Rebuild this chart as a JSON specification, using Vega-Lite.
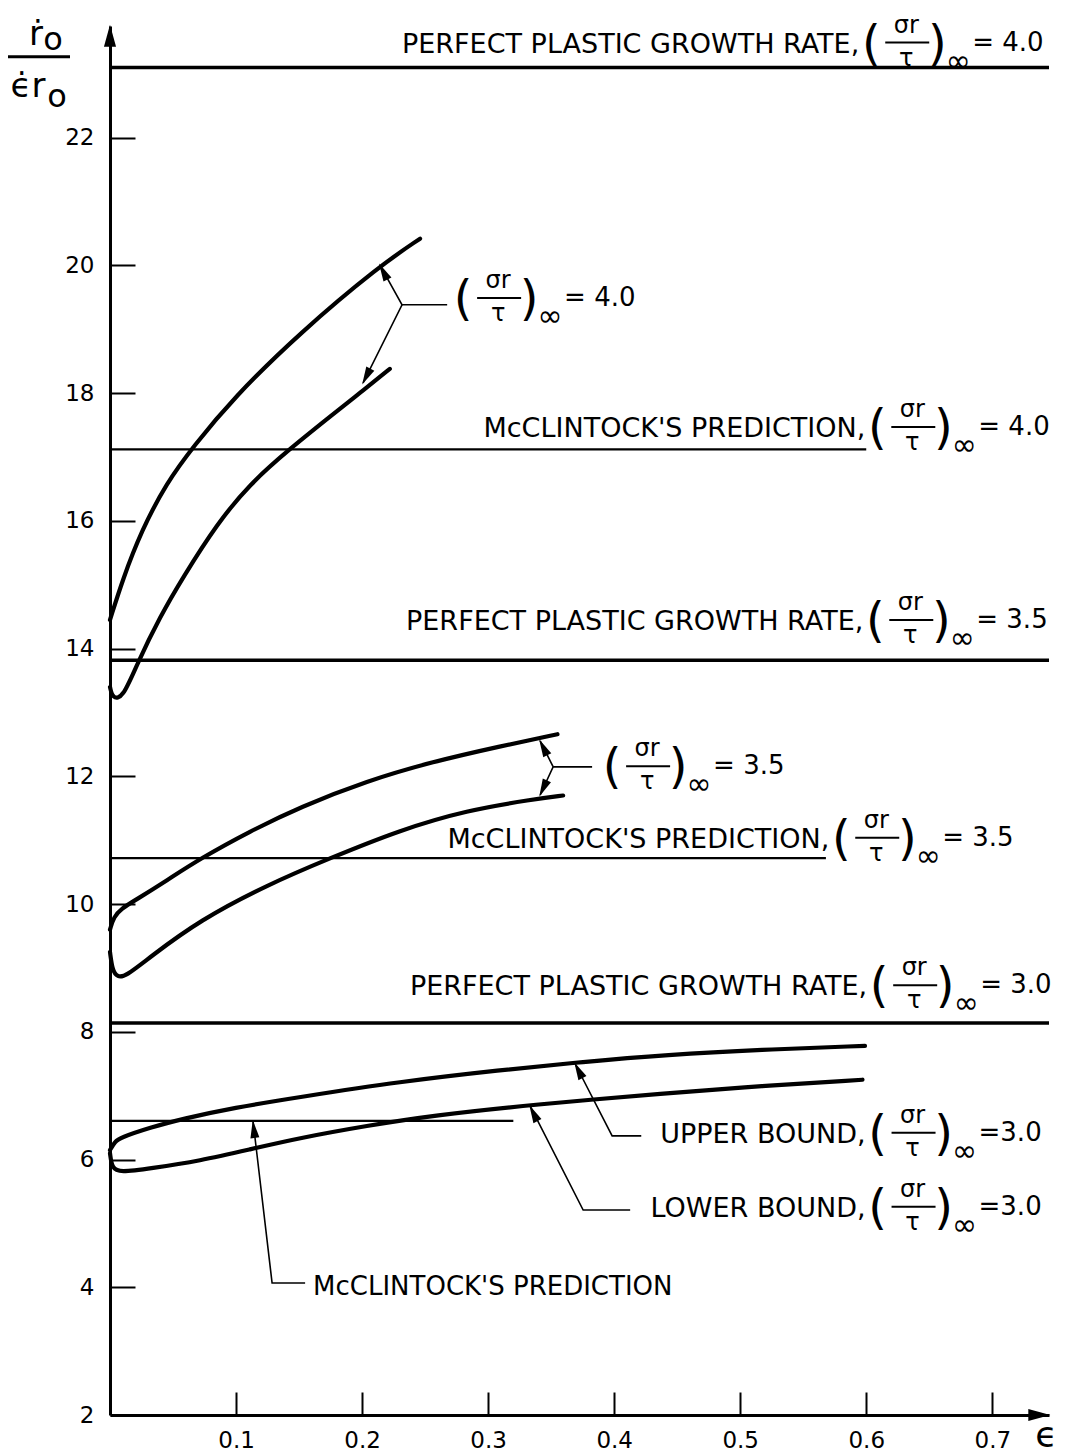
{
  "$schema": "https://vega.github.io/schema/vega-lite/v6.json",
  "width": 939,
  "height": 1389,
  "autosize": {"type": "none"},
  "padding": {"left": 110, "top": 26, "right": 18, "bottom": 41},
  "background": "white",
  "config": {"font": "DejaVu Sans", "view": {"stroke": null}},
  "datasets": {
    "curves": [
      {"s": "u40", "i": 0, "x": 0, "y": 14.45},
      {"s": "u40", "i": 1, "x": 0.01, "y": 15.08},
      {"s": "u40", "i": 2, "x": 0.025, "y": 15.85},
      {"s": "u40", "i": 3, "x": 0.045, "y": 16.6},
      {"s": "u40", "i": 4, "x": 0.0659, "y": 17.16},
      {"s": "u40", "i": 5, "x": 0.0976, "y": 17.92},
      {"s": "u40", "i": 6, "x": 0.1508, "y": 18.95},
      {"s": "u40", "i": 7, "x": 0.2143, "y": 20.0},
      {"s": "u40", "i": 8, "x": 0.246, "y": 20.42},
      {"s": "l40", "i": 0, "x": 0, "y": 13.4},
      {"s": "l40", "i": 1, "x": 0.002, "y": 13.22},
      {"s": "l40", "i": 2, "x": 0.01, "y": 13.22},
      {"s": "l40", "i": 3, "x": 0.0212, "y": 13.75},
      {"s": "l40", "i": 4, "x": 0.0397, "y": 14.5},
      {"s": "l40", "i": 5, "x": 0.058, "y": 15.12},
      {"s": "l40", "i": 6, "x": 0.0847, "y": 15.95},
      {"s": "l40", "i": 7, "x": 0.111, "y": 16.58},
      {"s": "l40", "i": 8, "x": 0.1415, "y": 17.11},
      {"s": "l40", "i": 9, "x": 0.177, "y": 17.67},
      {"s": "l40", "i": 10, "x": 0.198, "y": 18.0},
      {"s": "l40", "i": 11, "x": 0.222, "y": 18.38},
      {"s": "u35", "i": 0, "x": 0, "y": 9.6},
      {"s": "u35", "i": 1, "x": 0.003, "y": 9.8},
      {"s": "u35", "i": 2, "x": 0.009, "y": 9.93},
      {"s": "u35", "i": 3, "x": 0.02, "y": 10.06},
      {"s": "u35", "i": 4, "x": 0.045, "y": 10.37},
      {"s": "u35", "i": 5, "x": 0.0714, "y": 10.71},
      {"s": "u35", "i": 6, "x": 0.111, "y": 11.14},
      {"s": "u35", "i": 7, "x": 0.1508, "y": 11.52},
      {"s": "u35", "i": 8, "x": 0.204, "y": 11.93},
      {"s": "u35", "i": 9, "x": 0.256, "y": 12.23},
      {"s": "u35", "i": 10, "x": 0.3095, "y": 12.47},
      {"s": "u35", "i": 11, "x": 0.355, "y": 12.66},
      {"s": "l35", "i": 0, "x": 0, "y": 9.25},
      {"s": "l35", "i": 1, "x": 0.002, "y": 8.95},
      {"s": "l35", "i": 2, "x": 0.006, "y": 8.86},
      {"s": "l35", "i": 3, "x": 0.0119, "y": 8.86},
      {"s": "l35", "i": 4, "x": 0.0317, "y": 9.17},
      {"s": "l35", "i": 5, "x": 0.0714, "y": 9.75},
      {"s": "l35", "i": 6, "x": 0.1246, "y": 10.3},
      {"s": "l35", "i": 7, "x": 0.1746, "y": 10.72},
      {"s": "l35", "i": 8, "x": 0.23, "y": 11.16},
      {"s": "l35", "i": 9, "x": 0.283, "y": 11.47},
      {"s": "l35", "i": 10, "x": 0.3357, "y": 11.64},
      {"s": "l35", "i": 11, "x": 0.3595, "y": 11.7},
      {"s": "u30", "i": 0, "x": 0, "y": 6.15},
      {"s": "u30", "i": 1, "x": 0.004, "y": 6.28},
      {"s": "u30", "i": 2, "x": 0.0079, "y": 6.34},
      {"s": "u30", "i": 3, "x": 0.0317, "y": 6.5},
      {"s": "u30", "i": 4, "x": 0.058, "y": 6.64},
      {"s": "u30", "i": 5, "x": 0.0976, "y": 6.81},
      {"s": "u30", "i": 6, "x": 0.1508, "y": 6.98},
      {"s": "u30", "i": 7, "x": 0.23, "y": 7.22},
      {"s": "u30", "i": 8, "x": 0.3095, "y": 7.4},
      {"s": "u30", "i": 9, "x": 0.375, "y": 7.53},
      {"s": "u30", "i": 10, "x": 0.442, "y": 7.64},
      {"s": "u30", "i": 11, "x": 0.516, "y": 7.72},
      {"s": "u30", "i": 12, "x": 0.599, "y": 7.78},
      {"s": "l30", "i": 0, "x": 0, "y": 6.1},
      {"s": "l30", "i": 1, "x": 0.0016, "y": 5.86},
      {"s": "l30", "i": 2, "x": 0.0079, "y": 5.8},
      {"s": "l30", "i": 3, "x": 0.0317, "y": 5.86},
      {"s": "l30", "i": 4, "x": 0.0714, "y": 5.98},
      {"s": "l30", "i": 5, "x": 0.111, "y": 6.16},
      {"s": "l30", "i": 6, "x": 0.1508, "y": 6.34},
      {"s": "l30", "i": 7, "x": 0.204, "y": 6.53},
      {"s": "l30", "i": 8, "x": 0.256, "y": 6.69},
      {"s": "l30", "i": 9, "x": 0.3357, "y": 6.86},
      {"s": "l30", "i": 10, "x": 0.442, "y": 7.04},
      {"s": "l30", "i": 11, "x": 0.516, "y": 7.15},
      {"s": "l30", "i": 12, "x": 0.597, "y": 7.25}
    ],
    "hlines": [
      {"kind": "perfect", "x": 0, "xend": 0.745, "y": 23.1},
      {"kind": "perfect", "x": 0, "xend": 0.745, "y": 13.82},
      {"kind": "perfect", "x": 0, "xend": 0.745, "y": 8.14},
      {"kind": "mcc", "x": 0, "xend": 0.6, "y": 17.12},
      {"kind": "mcc", "x": 0, "xend": 0.568, "y": 10.72},
      {"kind": "mcc", "x": 0, "xend": 0.32, "y": 6.605}
    ],
    "leaders": [
      {"l": "a40", "i": 0, "x": 0.2143, "y": 20.0},
      {"l": "a40", "i": 1, "x": 0.2317, "y": 19.385},
      {"l": "a40", "i": 2, "x": 0.2008, "y": 18.163},
      {"l": "a40h", "i": 0, "x": 0.2317, "y": 19.385},
      {"l": "a40h", "i": 1, "x": 0.2675, "y": 19.385},
      {"l": "a35", "i": 0, "x": 0.3413, "y": 12.556},
      {"l": "a35", "i": 1, "x": 0.3516, "y": 12.149},
      {"l": "a35", "i": 2, "x": 0.3413, "y": 11.71},
      {"l": "a35h", "i": 0, "x": 0.3516, "y": 12.149},
      {"l": "a35h", "i": 1, "x": 0.3825, "y": 12.149},
      {"l": "ub", "i": 0, "x": 0.369, "y": 7.5},
      {"l": "ub", "i": 1, "x": 0.3984, "y": 6.37},
      {"l": "ub", "i": 2, "x": 0.4215, "y": 6.37},
      {"l": "lb", "i": 0, "x": 0.3333, "y": 6.84},
      {"l": "lb", "i": 1, "x": 0.3754, "y": 5.21},
      {"l": "lb", "i": 2, "x": 0.4127, "y": 5.21},
      {"l": "mc", "i": 0, "x": 0.1135, "y": 6.6},
      {"l": "mc", "i": 1, "x": 0.1286, "y": 4.067},
      {"l": "mc", "i": 2, "x": 0.1548, "y": 4.067}
    ],
    "arrows": [
      {"x": 0.2168, "y": 19.905, "angle": 332},
      {"x": 0.2033, "y": 18.26, "angle": 207},
      {"x": 0.3437, "y": 12.457, "angle": 333},
      {"x": 0.3436, "y": 11.809, "angle": 205},
      {"x": 0.3716, "y": 7.4, "angle": 333},
      {"x": 0.3359, "y": 6.727, "angle": 333},
      {"x": 0.1141, "y": 6.48, "angle": 353}
    ],
    "axisarrows": [
      {"x": 0, "y": 23.597, "angle": 0},
      {"x": 0.7373, "y": 2, "angle": 90}
    ],
    "formulas": [
      {"x": 0.6, "y": 23.49, "lead": "PERFECT PLASTIC GROWTH RATE,", "rhs": "= 4.0"},
      {"x": 0.2762, "y": 19.49, "lead": "", "rhs": "= 4.0"},
      {"x": 0.6048, "y": 17.47, "lead": "McCLINTOCK'S PREDICTION,", "rhs": "= 4.0"},
      {"x": 0.6032, "y": 14.45, "lead": "PERFECT PLASTIC GROWTH RATE,", "rhs": "= 3.5"},
      {"x": 0.3944, "y": 12.16, "lead": "", "rhs": "= 3.5"},
      {"x": 0.5762, "y": 11.04, "lead": "McCLINTOCK'S PREDICTION,", "rhs": "= 3.5"},
      {"x": 0.6063, "y": 8.73, "lead": "PERFECT PLASTIC GROWTH RATE,", "rhs": "= 3.0"},
      {"x": 0.605, "y": 6.42, "lead": "UPPER BOUND,", "rhs": "=3.0"},
      {"x": 0.605, "y": 5.26, "lead": "LOWER BOUND,", "rhs": "=3.0"}
    ],
    "notes": [
      {"x": 0.1611, "y": 4.0, "t": "McCLINTOCK'S PREDICTION"}
    ],
    "xlabel": [
      {"x": 0.7341, "y": 1.67, "t": "ϵ"}
    ],
    "ytitle": [{"x": 0, "y": 23.27}]
  },
  "encoding": {
    "x": {
      "field": "x", "type": "quantitative",
      "scale": {"domain": [0, 0.745], "nice": false, "zero": false},
      "axis": {
        "values": [0.1, 0.2, 0.3, 0.4, 0.5, 0.6, 0.7], "format": ".1f", "title": null,
        "grid": false, "tickSize": -23, "tickWidth": 2, "tickColor": "black",
        "domainColor": "black", "domainWidth": 3, "labelFontSize": 23,
        "labelColor": "black", "labelPadding": 37
      }
    },
    "y": {
      "field": "y", "type": "quantitative",
      "scale": {"domain": [2, 23.75], "nice": false, "zero": false},
      "axis": {
        "values": [2, 4, 6, 8, 10, 12, 14, 16, 18, 20, 22], "format": "d", "title": null,
        "grid": false, "tickSize": -25, "tickWidth": 2, "tickColor": "black",
        "domainColor": "black", "domainWidth": 3, "labelFontSize": 23,
        "labelColor": "black", "labelPadding": 41
      }
    }
  },
  "layer": [
    {
      "data": {"name": "hlines"},
      "transform": [{"filter": "datum.kind == 'perfect'"}],
      "mark": {"type": "rule", "color": "black", "strokeWidth": 3.5},
      "encoding": {"x2": {"field": "xend"}}
    },
    {
      "data": {"name": "hlines"},
      "transform": [{"filter": "datum.kind == 'mcc'"}],
      "mark": {"type": "rule", "color": "black", "strokeWidth": 2.2},
      "encoding": {"x2": {"field": "xend"}}
    },
    {
      "data": {"name": "curves"},
      "mark": {"type": "line", "color": "black", "strokeWidth": 4.2, "interpolate": "basis", "strokeCap": "round"},
      "encoding": {"detail": {"field": "s"}, "order": {"field": "i", "type": "quantitative"}}
    },
    {
      "data": {"name": "leaders"},
      "mark": {"type": "line", "color": "black", "strokeWidth": 1.6},
      "encoding": {"detail": {"field": "l"}, "order": {"field": "i", "type": "quantitative"}}
    },
    {
      "data": {"name": "arrows"},
      "mark": {"type": "point", "shape": "M0,-1L0.5,1L-0.5,1Z", "filled": true, "color": "black", "size": 324, "opacity": 1},
      "encoding": {"angle": {"field": "angle", "type": "quantitative", "scale": null}}
    },
    {
      "data": {"name": "axisarrows"},
      "mark": {"type": "point", "shape": "M0,-1L0.55,1L-0.55,1Z", "filled": true, "color": "black", "size": 484, "opacity": 1},
      "encoding": {"angle": {"field": "angle", "type": "quantitative", "scale": null}}
    },
    {
      "data": {"name": "formulas"},
      "mark": {"type": "text", "align": "right", "baseline": "middle", "dx": -7, "dy": 2, "fontSize": 27, "color": "black"},
      "encoding": {"text": {"field": "lead"}}
    },
    {
      "data": {"name": "formulas"},
      "mark": {"type": "text", "text": "(", "align": "center", "baseline": "middle", "dx": 5, "dy": 3, "fontSize": 48, "color": "black"}
    },
    {
      "data": {"name": "formulas"},
      "mark": {"type": "text", "text": "σr", "align": "center", "baseline": "middle", "dx": 40, "dy": -17, "fontSize": 24, "color": "black"}
    },
    {
      "data": {"name": "formulas"},
      "mark": {"type": "rule", "color": "black", "strokeWidth": 2, "xOffset": 19, "x2Offset": 63},
      "encoding": {"x2": {"field": "x"}}
    },
    {
      "data": {"name": "formulas"},
      "mark": {"type": "text", "text": "τ", "align": "center", "baseline": "middle", "dx": 40, "dy": 16, "fontSize": 24, "color": "black"}
    },
    {
      "data": {"name": "formulas"},
      "mark": {"type": "text", "text": ")", "align": "center", "baseline": "middle", "dx": 71, "dy": 3, "fontSize": 48, "color": "black"}
    },
    {
      "data": {"name": "formulas"},
      "mark": {"type": "text", "text": "∞", "align": "center", "baseline": "middle", "dx": 92, "dy": 19, "fontSize": 30, "color": "black"}
    },
    {
      "data": {"name": "formulas"},
      "mark": {"type": "text", "align": "left", "baseline": "middle", "dx": 106, "dy": 0, "fontSize": 26, "color": "black"},
      "encoding": {"text": {"field": "rhs"}}
    },
    {
      "data": {"name": "notes"},
      "mark": {"type": "text", "align": "left", "baseline": "middle", "fontSize": 26, "color": "black"},
      "encoding": {"text": {"field": "t"}}
    },
    {
      "data": {"name": "xlabel"},
      "mark": {"type": "text", "align": "left", "baseline": "middle", "fontSize": 36, "color": "black"},
      "encoding": {"text": {"field": "t"}}
    },
    {
      "data": {"name": "ytitle"},
      "mark": {"type": "text", "text": "ṙ", "align": "center", "baseline": "alphabetic", "dx": -74, "dy": -12, "fontSize": 34, "color": "black"}
    },
    {
      "data": {"name": "ytitle"},
      "mark": {"type": "text", "text": "o", "align": "center", "baseline": "alphabetic", "dx": -57, "dy": -7, "fontSize": 32, "color": "black"}
    },
    {
      "data": {"name": "ytitle"},
      "mark": {"type": "rule", "color": "black", "strokeWidth": 3, "xOffset": -102, "x2Offset": -40},
      "encoding": {"x2": {"field": "x"}}
    },
    {
      "data": {"name": "ytitle"},
      "mark": {"type": "text", "text": "ϵ̇r", "align": "center", "baseline": "alphabetic", "dx": -82, "dy": 40, "fontSize": 34, "color": "black"}
    },
    {
      "data": {"name": "ytitle"},
      "mark": {"type": "text", "text": "o", "align": "center", "baseline": "alphabetic", "dx": -53, "dy": 50, "fontSize": 32, "color": "black"}
    }
  ]
}
